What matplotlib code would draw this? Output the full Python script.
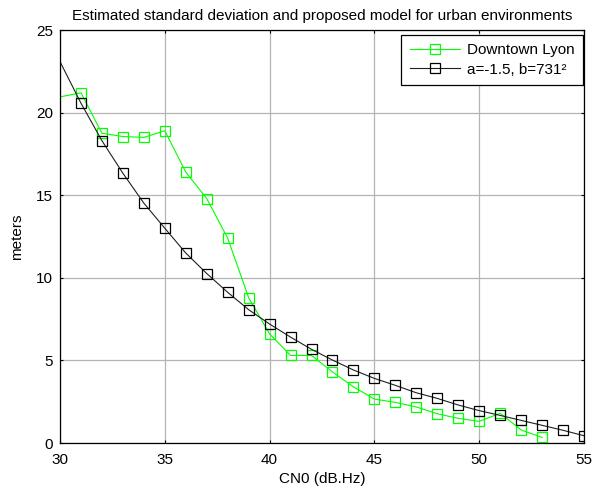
import matplotlib.pyplot as plt

plt.rcParams['font.family'] = ['Liberation Sans', 'DejaVu Sans']

# CN0 values (dB.Hz)
cn0 = [29, 31, 32, 33, 34, 35, 36, 37, 38, 39, 40, 41, 42, 43, 44, 45, 46, 47,
       48, 49, 50, 51, 52, 53, 54, 55]

# Downtown Lyon estimated standard deviation (meters)
cn0_lyon = cn0[:24]
sigma_lyon = [20.7, 21.2, 18.75, 18.55, 18.5, 18.9, 16.4, 14.8, 12.4, 8.8, 6.6,
              5.3, 5.3, 4.3, 3.4, 2.66, 2.46, 2.18, 1.77, 1.49, 1.31, 1.8, 0.79, 0.34]

# model a=-1.5, b=731^2
sigma_model = [25.6, 20.57, 18.3, 16.33, 14.52, 13.0, 11.5, 10.26, 9.12, 8.07, 7.2,
               6.41, 5.67, 5.02, 4.42, 3.91, 3.49, 3.04, 2.7, 2.3, 1.96, 1.67,
               1.37, 1.07, 0.77, 0.44]

fig = plt.figure(figsize=(6.03, 4.90), dpi=100)
ax = fig.add_axes([60 / 603, 47 / 490, 524 / 603, 413 / 490])

ax.plot(cn0_lyon, sigma_lyon, color='#00ff00', lw=0.8, marker='s', ms=7,
        mfc='none', mec='#00ff00', mew=0.9, label='Downtown Lyon')
ax.plot(cn0, sigma_model, color='#202020', lw=0.8, marker='s', ms=7,
        mfc='none', mec='black', mew=0.9, label='a=-1.5, b=731²')

ax.set_xlim(30, 55)
ax.set_ylim(0, 25)
ax.set_xticks([30, 35, 40, 45, 50, 55])
ax.set_yticks([0, 5, 10, 15, 20, 25])
ax.grid(True, color='#b4b4b4', lw=0.9, ls='-')
ax.tick_params(direction='in', top=True, right=True, labelsize=11, length=2.5)
ax.tick_params(axis='x', pad=7)
ax.tick_params(axis='y', pad=5)
for sp in ax.spines.values():
    sp.set_linewidth(0.9)

ax.set_xlabel('CN0 (dB.Hz)', fontsize=11, labelpad=4)
ax.set_ylabel('meters', fontsize=11, labelpad=9)
ax.set_title('Estimated standard deviation and proposed model for urban environments',
             fontsize=11, pad=7)

leg = ax.legend(loc='upper right', bbox_to_anchor=(1 - 1 / 524, 1 - 5 / 413),
                fontsize=11, fancybox=False, framealpha=1, edgecolor='black',
                borderaxespad=0, borderpad=0.55, handlelength=3.3,
                handletextpad=0.45, labelspacing=0.35)
leg.get_frame().set_linewidth(0.9)

fig.savefig('out.png', dpi=100)
